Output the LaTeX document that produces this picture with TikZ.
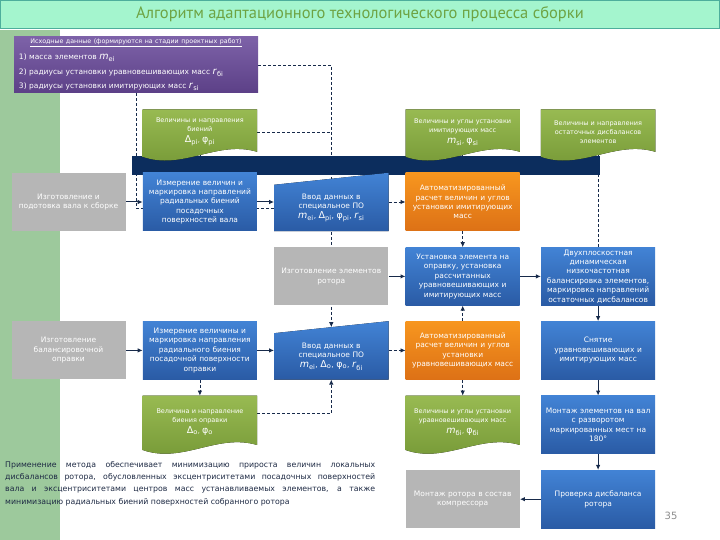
\documentclass[tikz,border=0pt]{standalone}
\usepackage{fontspec}
\setmainfont{DejaVu Sans}
\newfontfamily\titlefont{PT Sans}
\usetikzlibrary{arrows.meta,positioning,calc}

\definecolor{mintbar}{HTML}{A4F5CE}
\definecolor{mintedge}{HTML}{4DAE9C}
\definecolor{titletxt}{HTML}{6EA343}
\definecolor{leftstrip}{HTML}{9DC99C}
\definecolor{busnavy}{HTML}{0C2D5D}
\definecolor{conn}{HTML}{172A4A}
\definecolor{notetxt}{HTML}{1E2A44}
\definecolor{purpletop}{HTML}{7D62A8}
\definecolor{purplebot}{HTML}{5C4087}
\definecolor{bluetop}{HTML}{4283D5}
\definecolor{bluebot}{HTML}{2A5BA5}
\definecolor{orangetop}{HTML}{F7961F}
\definecolor{orangebot}{HTML}{DD7116}
\definecolor{greentop}{HTML}{98BA52}
\definecolor{greenbot}{HTML}{749735}
\definecolor{boxgray}{HTML}{B6B6B6}

\pgfdeclarelayer{back}
\pgfdeclarelayer{mid}
\pgfsetlayers{back,mid,main}

\newcommand{\mv}[2]{{\fontsize{9.5}{9.5}\selectfont\textit{#1}\textsubscript{#2}}}
\newcommand{\gv}[2]{{\fontsize{9.5}{9.5}\selectfont #1\textsubscript{#2}}}

\begin{document}
\begin{tikzpicture}[
  x=1pt,y=1pt,
  font=\fontsize{7.5}{9.4}\selectfont,
  >={Latex[length=5pt,width=4.5pt]},
  box/.style={minimum width=114pt,minimum height=58pt,text width=112pt,
              align=center,inner sep=0pt,text=white},
  graybox/.style={box,fill=boxgray},
  bluebox/.style={box,top color=bluetop,bottom color=bluebot},
  orangebox/.style={box,top color=orangetop,bottom color=orangebot},
  inputbox/.style={box,minimum height=46pt},
  docbox/.style={box,minimum height=45pt,font=\fontsize{6.5}{9}\selectfont},
  srcbox/.style={minimum width=244pt,minimum height=56pt,text width=234pt,
                 align=left,inner sep=0pt,text=white,
                 top color=purpletop,bottom color=purplebot,
                 font=\fontsize{7.5}{14.5}\selectfont},
  bus/.style={fill=busnavy,minimum width=468pt,minimum height=19pt,inner sep=0pt},
  titlebar/.style={fill=mintbar,draw=mintedge,line width=1pt,
                   minimum width=719pt,minimum height=28pt,text=titletxt,
                   font=\titlefont\fontsize{16.5}{18}\selectfont},
  note/.style={text width=370pt,align=justify,inner sep=0pt,text=notetxt,
               font=\fontsize{7.8}{12.3}\selectfont},
  flow/.style={->,conn,line width=1pt},
  data/.style={conn,line width=0.8pt,dash pattern=on 3pt off 2pt}
]
\useasboundingbox (0,0) rectangle (720,540);

\node[titlebar] (head) at (360,525.5) {Алгоритм адаптационного технологического процесса сборки};

\node[srcbox] (src) at (136,475) {%
  \makebox[234pt]{\fontsize{6.3}{7}\selectfont\underline{Исходные данные (формируются на стадии проектных работ)}}\\[1.5pt]
  1) масса элементов \mv{m}{ei}\\
  2) радиусы установки уравновешивающих масс \mv{r}{бi}\\
  3) радиусы установки имитирующих масс \mv{r}{si}};

% ряд 1
\node[graybox] (g1) at (68.5,338) {Изготовление и\\подотовка вала к сборке};
\node[bluebox,right=17pt of g1] (m1) {Измерение величин и\\маркировка направлений\\радиальных биений\\посадочных\\поверхностей вала};
\node[inputbox,right=17pt of m1.south east,anchor=south west] (in1)
  {Ввод данных в\\специальное ПО\\[1pt]\mv{m}{ei}, \gv{Δ}{pi}, \gv{φ}{pi}, \mv{r}{si}};
\node[orangebox,right=17pt of in1.south east,anchor=south west] (a1)
  {Автоматизированный\\расчет величин и углов\\установки имитирующих\\масс};

% шина данных и документы сверху
\begin{pgfonlayer}{mid}
\node[bus] (bus) at (366,374.5) {};
\end{pgfonlayer}
\node[docbox,above=18pt of m1] (doc1) {Величины и направления\\биений\\[2pt]\gv{Δ}{pi}, \gv{φ}{pi}};
\node[docbox,above=18pt of a1] (docA) {Величины и углы установки\\имитирующих масс\\[2pt]\mv{m}{si}, \gv{φ}{si}};
\node[docbox,right=21pt of docA] (docB) {Величины и направления\\остаточных дисбалансов\\элементов};

% ряд 2
\node[graybox,below=16pt of in1] (g2) {Изготовление элементов\\ротора};
\node[bluebox,right=17pt of g2] (u2) {Установка элемента на\\оправку, установка\\рассчитанных\\уравновешивающих и\\имитирующих масс};
\node[bluebox,right=21pt of u2] (d2) {Двухплоскостная\\динамическая\\низкочастотная\\балансировка элементов,\\маркировка направлений\\остаточных дисбалансов};

% ряд 3
\node[graybox,below=90pt of g1] (g3) {Изготовление\\балансировочной\\оправки};
\node[bluebox,right=17pt of g3] (m3) {Измерение величины и\\маркировка направления\\радиального биения\\посадочной поверхности\\оправки};
\node[inputbox,right=17pt of m3.south east,anchor=south west] (in3)
  {Ввод данных в\\специальное ПО\\[1pt]\mv{m}{ei}, \gv{Δ}{o}, \gv{φ}{o}, \mv{r}{бi}};
\node[orangebox,right=17pt of in3.south east,anchor=south west] (a3)
  {Автоматизированный\\расчет величин и углов\\установки\\уравновешивающих масс};
\node[bluebox,right=21pt of a3] (s3) {Снятие\\уравновешивающих и\\имитирующих масс};

% ряд 4 и 5
\node[docbox,minimum height=52pt,below=16pt of m3] (docC) {Величина и направление\\биения оправки\\[2pt]\gv{Δ}{o}, \gv{φ}{o}};
\node[docbox,minimum height=52pt,below=16pt of a3] (docD) {Величины и углы установки\\уравновешивающих масс\\[2pt]\mv{m}{бi}, \gv{φ}{бi}};
\node[bluebox,below=16pt of s3] (mt4) {Монтаж элементов на вал\\с разворотом\\маркированных мест на\\180°};
\node[bluebox,below=16pt of mt4] (p5) {Проверка дисбаланса\\ротора};
\node[graybox,left=21pt of p5] (g5) {Монтаж ротора в состав\\компрессора};

\node[note,anchor=north west] (txt) at (5,79) {Применение метода обеспечивает минимизацию прироста величин локальных\linebreak
дисбалансов ротора, обусловленных эксцентриситетами посадочных поверхностей\linebreak
вала и эксцентриситетами центров масс устанавливаемых элементов, а также\linebreak
минимизацию радиальных биений поверхностей собранного ротора};

\node[text=black!45,font=\fontsize{10}{12}\selectfont] (pg) at (671,24) {35};

% фигуры: ручной ввод и документы
\begin{pgfonlayer}{mid}
\foreach \b in {in1,in3}
  \fill[top color=bluetop,bottom color=bluebot]
    (\b.north west) -- ($(\b.north east)+(0,12)$) -- (\b.south east) -- (\b.south west) -- cycle;
\foreach \d in {doc1,docA,docB,docC,docD}
  \fill[top color=greentop,bottom color=greenbot]
    (\d.north west) -- (\d.north east) -- ($(\d.south east)+(0,3)$)
    .. controls +(-40,12) and +(40,-14) .. ($(\d.south west)+(0,-2)$) -- cycle;
\end{pgfonlayer}

\coordinate (in3top) at ($(in3.north)+(0,6)$);
\coordinate (docCout) at ($(docC.east)+(0,8)$);

\begin{pgfonlayer}{back}
\fill[leftstrip] (0,0) rectangle (60,510);
% потоки данных
\draw[data] (src.south) |- (in1.west);
\draw[data,->] (src.east) -| (in3top);
\draw[data] (doc1.east) -- (doc1.east -| in3top);
\draw[data] (m1.north) -- (doc1.south);
\draw[data] (a1.north) -- (docA.south);
\draw[data] (d2.north) -- (docB.south);
\draw[data,->] (in1.east |- a1.west) -- (a1.west);
\draw[data,->] (a1.south) -- (u2.north);
\draw[data,->] (a3.north) -- (u2.south);
\draw[data,->] (a3.south) -- (docD.north);
\draw[data,->] (in3.east |- a3.west) -- (a3.west);
\draw[data,->] (m3.south) -- (docC.north);
\draw[data,->] (docCout) -| (in3.south);
% технологические переходы
\draw[flow] (g1) -- (m1);
\draw[flow] (m1.east) -- (m1.east -| in1.west);
\draw[flow] (g2) -- (u2);
\draw[flow] (u2) -- (d2);
\draw[flow] (g3) -- (m3);
\draw[flow] (m3.east) -- (m3.east -| in3.west);
\draw[flow] (d2) -- (s3);
\draw[flow] (s3) -- (mt4);
\draw[flow] (mt4) -- (p5);
\draw[flow] (p5) -- (g5);
\end{pgfonlayer}

\end{tikzpicture}
\end{document}
